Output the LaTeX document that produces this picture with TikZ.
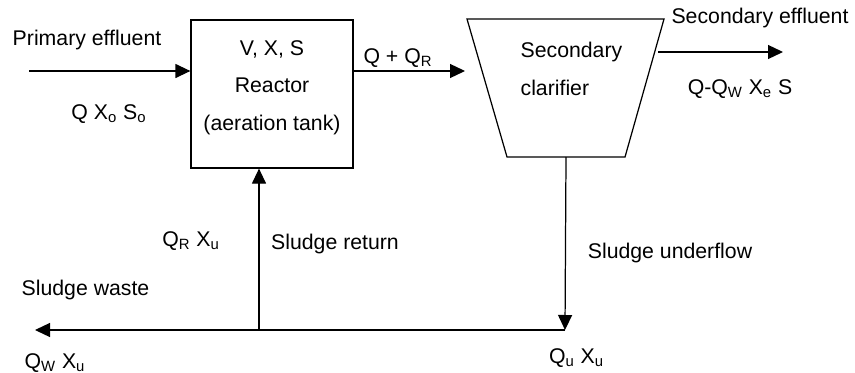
\documentclass[tikz,border=0pt]{standalone}
\usepackage{fontspec}
\setmainfont{Liberation Sans}
\usetikzlibrary{arrows.meta, positioning, calc}

\begin{document}
\begin{tikzpicture}[
    line width=0.7pt,
    every node/.style={font=\fontsize{12.1}{21.3}\selectfont, inner sep=0pt},
    flow/.style={-{Triangle[length=0.3cm, width=0.28cm]}},
    tank/.style={draw, minimum width=3.24cm, minimum height=2.96cm},
    lbl/.style={anchor=base}
]
    \useasboundingbox (0,0) rectangle (17.1,7.44);

    % --- Reactor (aeration tank) ---
    \node[tank] (reactor) at (5.44,5.56) {};
    \node[align=center] (reactortext) at ([yshift=0.13cm]reactor.center)
        {V, X, S\\Reactor\\(aeration tank)};

    % --- Secondary clarifier: trapezium, wide side up ---
    \coordinate (clTL) at (9.34,7.06);
    \coordinate (clTR) at (13.28,7.06);
    \coordinate (clBR) at (12.50,4.30);
    \coordinate (clBL) at (10.14,4.30);
    \draw (clTL) -- (clTR) -- (clBR) -- (clBL) -- cycle;
    \node[align=left, anchor=west] (clartext) at (10.40,6.06) {Secondary\\clarifier};

    % --- Feed line ---
    \coordinate (feed) at (0.58,6.02);
    \draw[flow] (feed) -- (reactor.west |- feed);
    \node[lbl] (primary) at (1.74,6.53) {Primary effluent};
    \node[lbl] (feedq) at (2.18,5.05) {Q X\textsubscript{o} S\textsubscript{o}};

    % --- Mixed liquor to the clarifier ---
    \coordinate (clin) at (9.30,6.02);
    \draw[flow] (reactor.east |- feed) -- (clin);
    \node[lbl] (mixq) at (7.96,6.17) {Q + Q\textsubscript{R}};

    % --- Clarifier overflow ---
    \coordinate (clout) at (13.16,6.40);
    \coordinate (effl) at (15.66,6.40);
    \draw[flow] (clout) -- (effl);
    \node[lbl] (secondary) at (15.20,6.96) {Secondary effluent};
    \node[lbl] (effq) at (14.80,5.56) {Q-Q\textsubscript{W} X\textsubscript{e} S};

    % --- Underflow, return and waste lines ---
    \coordinate (under) at (11.30,0.84);
    \coordinate (split) at (5.18,0.84);
    \coordinate (waste) at (0.70,0.84);
    \draw[flow] ($(clBL)!0.5!(clBR)$) -- (under);
    \draw[flow] (under) -- (waste);
    \draw[flow] (split) -- (reactor.south -| split);

    \node[lbl] (underlbl) at (13.40,2.28) {Sludge underflow};
    \node[lbl] (underq) at (11.53,0.18) {Q\textsubscript{u} X\textsubscript{u}};
    \node[lbl] (retlbl) at (6.70,2.46) {Sludge return};
    \node[lbl] (retq) at (3.82,2.51) {Q\textsubscript{R} X\textsubscript{u}};
    \node[lbl] (wastelbl) at (1.71,1.54) {Sludge waste};
    \node[lbl] (wasteq) at (1.10,0.08) {Q\textsubscript{W} X\textsubscript{u}};
\end{tikzpicture}
\end{document}
